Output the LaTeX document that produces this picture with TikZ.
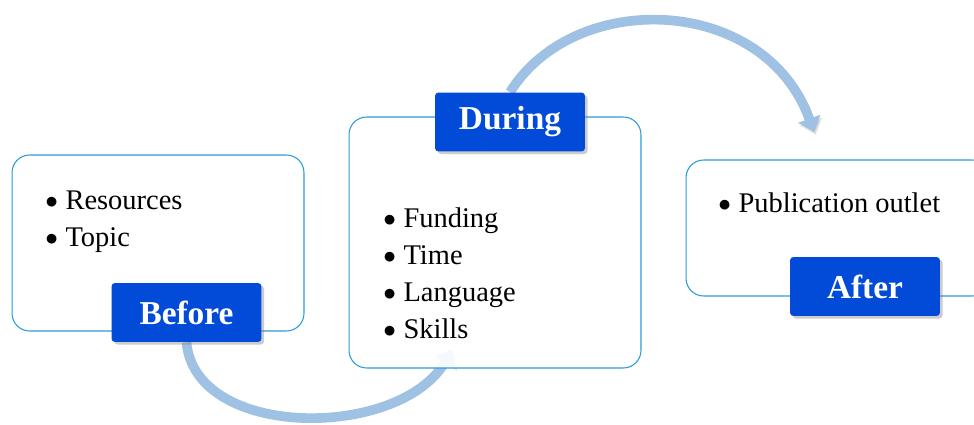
\documentclass[tikz,border=0pt]{standalone}
\usepackage{fontspec}
\setmainfont{Liberation Serif}
\usetikzlibrary{arrows.meta, positioning, shadows, backgrounds}

\definecolor{tagblue}{RGB}{2,74,216}
\definecolor{frameblue}{RGB}{45,155,215}
\definecolor{arcblue}{RGB}{158,193,228}

\newcommand\bul{\makebox[11.5pt][l]{\raisebox{0.6pt}{\fontsize{13.5}{14}\selectfont$\bullet$}}}

\begin{document}
\begin{tikzpicture}[
    x=0.02cm, y=-0.02cm,
    panel/.style={rectangle, draw=frameblue, line width=0.6pt, rounded corners=10pt, fill=white, fill opacity=0.9, text opacity=1},
    tag/.style={rectangle, fill=tagblue, text=white, rounded corners=2pt, minimum width=3cm, minimum height=1.18cm, font=\fontsize{19}{20}\selectfont\bfseries, drop shadow={opacity=0.4, shadow xshift=1.5pt, shadow yshift=-1.5pt}},
    items/.style={align=left, inner sep=0pt, anchor=base west, font=\fontsize{16.2}{21.2}\selectfont},
    cycle/.style={line width=5.5pt, draw=arcblue, -{Triangle[width=13pt,length=8pt]}, preaction={draw=black, opacity=0.12, transform canvas={shift={(1pt,-1.5pt)}}}}
]
    \useasboundingbox (0,0) rectangle (974,425);
    \clip (0,0) rectangle (974,425);

    % the three stages
    \node[panel, minimum width=5.84cm, minimum height=3.52cm] (box1) at (158,243) {};
    \node[panel, minimum width=5.84cm, minimum height=5.02cm] (box2) at (495,242.5) {};
    \node[panel, minimum width=6.08cm, minimum height=2.72cm] (box3) at (838,228) {};

    % lists sit on the baseline of their last line
    \node[items] (list1) at (45,247) {\bul Resources\\ \bul Topic};
    \node[items] (list2) at (383,339) {\bul Funding\\ \bul Time\\ \bul Language\\ \bul Skills};
    \node[items] (list3) at (718,213) {\bul Publication outlet};

    \node[tag] (before) at (186.5,312.5) {Before};
    \node[tag] (during) at (510,122) {During};
    \node[tag] (after) at (865,286.5) {After};

    \coordinate (in2) at (452,350);
    \coordinate (in3) at (814,132);

    % arcs run behind the boxes
    \begin{scope}[on background layer]
        \draw[cycle] (before.south) .. controls (195,440) and (400,440) .. (in2);
        \draw[cycle] (during.north) .. controls (575,-12) and (765,-5) .. (in3);
    \end{scope}
\end{tikzpicture}
\end{document}
